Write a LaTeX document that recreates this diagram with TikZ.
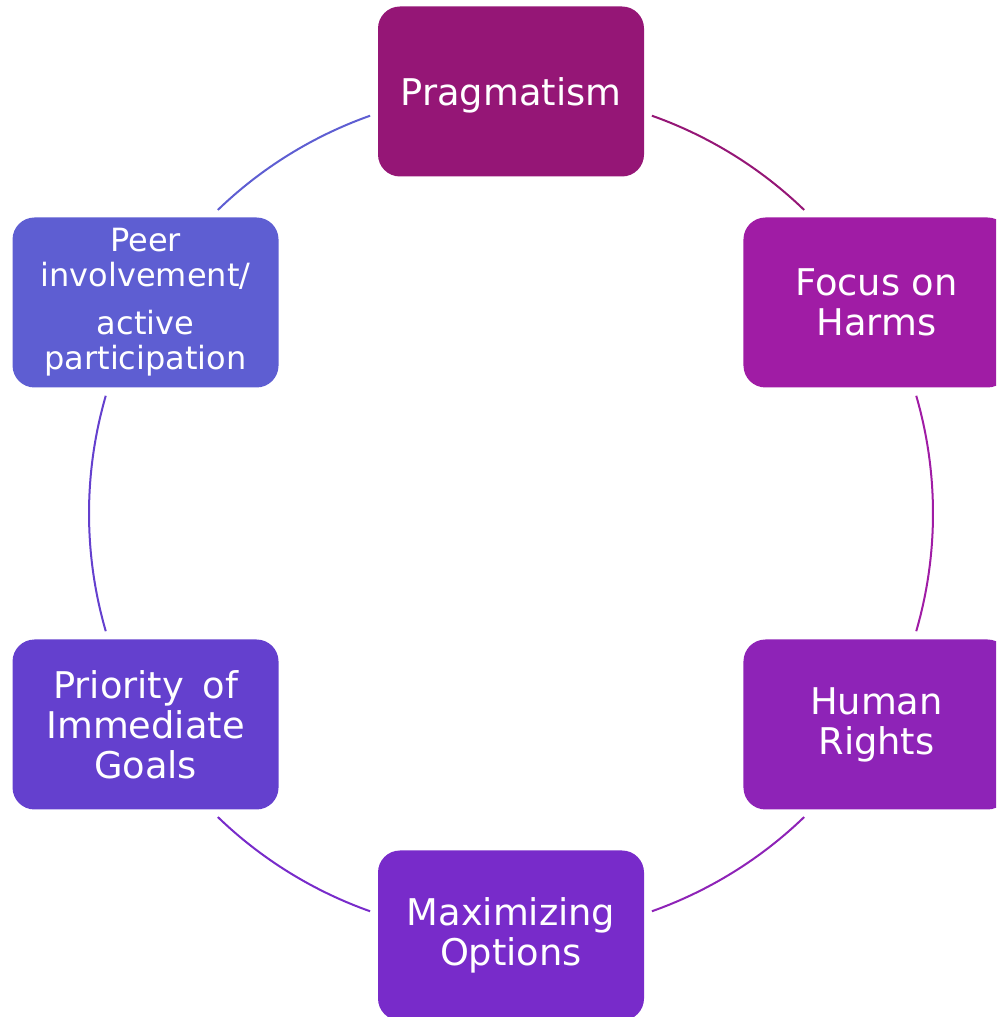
\documentclass[tikz,border=0pt]{standalone}
\usepackage{fontspec}
\setmainfont{DejaVu Sans}
\definecolor{cPrag}{RGB}{149,22,118}
\definecolor{cFocus}{RGB}{160,28,165}
\definecolor{cHuman}{RGB}{142,35,183}
\definecolor{cMax}{RGB}{120,43,202}
\definecolor{cPrio}{RGB}{100,64,206}
\definecolor{cPeer}{RGB}{94,94,210}
\tikzset{
  box/.style={rectangle, rounded corners=22pt, minimum width=266pt, minimum height=170pt,
    inner sep=0pt, text=white, align=center, font=\fontsize{36.8}{40}\selectfont},
  ring/.style={line width=2pt}
}
\begin{document}
\begin{tikzpicture}[x=1pt,y=1pt]
\useasboundingbox (0,0) rectangle (996,1017);
\clip (0,0) rectangle (996,1017);
\coordinate (c) at (511,503.5);
% arcs
\draw[ring,cPeer]  ([shift={(134:422pt)}]c) arc[start angle=134, end angle=109.5, radius=422pt];
\draw[ring,cPrag]  ([shift={(70.5:422pt)}]c) arc[start angle=70.5, end angle=46, radius=422pt];
\draw[ring,cFocus] ([shift={(16.2:422pt)}]c) arc[start angle=16.2, end angle=-16.2, radius=422pt];
\draw[ring,cHuman] ([shift={(-46:422pt)}]c) arc[start angle=-46, end angle=-70.5, radius=422pt];
\draw[ring,cMax]   ([shift={(-109.5:422pt)}]c) arc[start angle=-109.5, end angle=-134, radius=422pt];
\draw[ring,cPrio]  ([shift={(196.2:422pt)}]c) arc[start angle=196.2, end angle=163.8, radius=422pt];
% boxes
\node[box,fill=cPrag]  (prag)  at ([shift={(90:422pt)}]c) {\raisebox{-4pt}[\height][\depth]{Pragmatism}};
\node[box,fill=cFocus] (focus) at ([shift={(30:422pt)}]c) {Focus on\\Harms};
\node[box,fill=cHuman] (human) at ([shift={(-30:422pt)}]c) {Human\\Rights};
\node[box,fill=cMax]   (max)   at ([shift={(-90:422pt)}]c) {Maximizing\\Options};
\node[box,fill=cPrio]  (prio)  at ([shift={(-150:422pt)}]c) {Priority\hspace{0.5em}of\\Immediate\\Goals};
\node[box,fill=cPeer,font=\fontsize{32}{35}\selectfont] (peer) at ([shift={(150:422pt)}]c)
  {Peer\\involvement/\\[13pt]active\\participation};
\end{tikzpicture}
\end{document}
